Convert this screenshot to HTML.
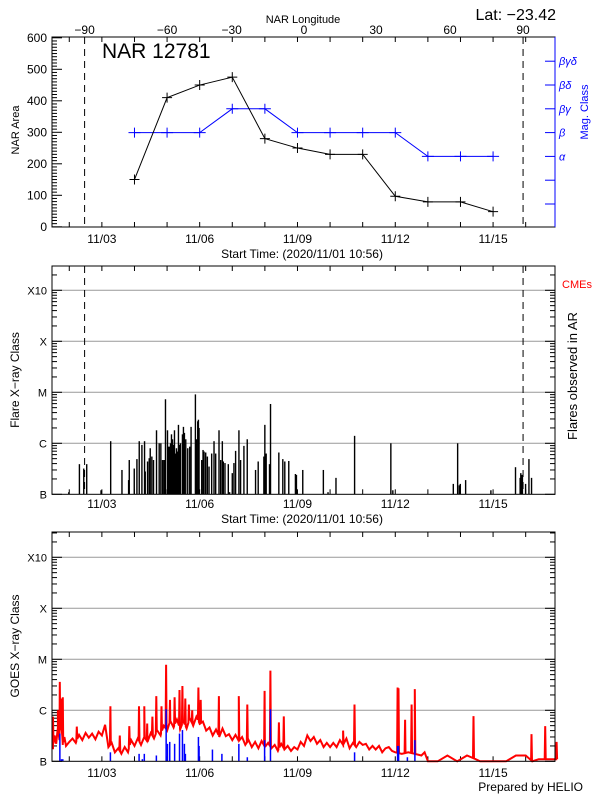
<!DOCTYPE html>
<html><head><meta charset="utf-8">
<style>
body{margin:0;background:#fff;}
svg{display:block;font-family:"Liberation Sans",sans-serif;}
</style></head>
<body>
<svg id="chart" width="600" height="800" viewBox="0 0 600 800" xmlns="http://www.w3.org/2000/svg">
<rect x="0" y="0" width="600" height="800" fill="#fff"/>
<text x="303" y="23" font-size="11" text-anchor="middle">NAR Longitude</text>
<text x="556" y="20" font-size="16" text-anchor="end">Lat: −23.42</text>
<text x="102" y="58" font-size="21">NAR 12781</text>
<text transform="translate(19,130) rotate(-90)" font-size="11" text-anchor="middle">NAR Area</text>
<text transform="translate(588,112) rotate(-90)" font-size="11" text-anchor="middle" fill="#00f">Mag. Class</text>
<text x="302" y="258" font-size="12" text-anchor="middle">Start Time: (2020/11/01 10:56)</text>
<text transform="translate(19,380) rotate(-90)" font-size="12" text-anchor="middle">Flare X−ray Class</text>
<text transform="translate(577,376) rotate(-90)" font-size="13" text-anchor="middle">Flares observed in AR</text>
<text x="562" y="288" font-size="11" fill="#f00">CMEs</text>
<text x="302" y="523" font-size="12" text-anchor="middle">Start Time: (2020/11/01 10:56)</text>
<text transform="translate(19,646) rotate(-90)" font-size="12" text-anchor="middle">GOES X−ray Class</text>
<text x="583" y="791" font-size="12" text-anchor="end">Prepared by HELIO</text>
<g id="plot"></g>
</svg>
<script>
// ---- data ----
const areaDays = [3,4,5,6,7,8,9,10,11,12,13,14];
const areaValues = [150,410,450,475,280,250,230,230,97,79,79,48];
const magDays = [3,4,5,6,7,8,9,10,11,12,13,14];
const magValues = [3,3,3,4,4,3,3,3,3,2,2,2];
const magLabels = ["","","α","β","βγ","βδ","βγδ"];
const areaTicks = [0,100,200,300,400,500,600];
const dateTickLabels = ["11/03","11/06","11/09","11/12","11/15"];
const dateTickDays = [2,5,8,11,14];
const lonLabels = [-90,-60,-30,0,30,60,90];
const lonDays = [1.47,4.0,5.98,8.2,10.41,12.68,14.92];
const dashDays = [1.47,14.92];
const classLabels = ["B","C","M","X","X10"];
const flareDays = [0.985,1.311,1.444,1.535,1.974,2.27,2.616,2.82,2.84,2.993,3.075,3.146,3.228,3.309,3.33,3.401,3.452,3.483,3.533,3.584,3.676,3.758,3.809,3.86,3.90,3.931,3.951,4.013,4.043,4.074,4.105,4.135,4.166,4.196,4.227,4.257,4.288,4.318,4.349,4.38,4.41,4.471,4.502,4.532,4.573,4.634,4.695,4.736,4.869,4.9,4.94,4.961,4.981,5.063,5.103,5.134,5.185,5.236,5.287,5.368,5.44,5.491,5.593,5.644,5.695,5.725,5.776,5.878,5.919,6.0,6.051,6.102,6.204,6.255,6.357,6.459,6.714,6.795,6.969,6.999,7.04,7.142,7.173,7.428,7.55,7.611,7.733,7.937,7.968,8.162,8.794,8.937,9.181,9.752,10.864,10.925,12.78,12.913,12.964,12.995,13.158,13.933,14.688,14.83,14.85,14.88,14.9,14.997,15.1,15.18];
const flareClasses = ["B1.1","B3.9","B3.2","B3.9","B1.2","C1.1","B3.0","B1.9","B4.7","B3.2","B4.9","C1.1","B9.3","C1.1","B2.8","B4.4","B5.1","B8.0","B5.5","B4.7","C1.8","C1.0","C1.0","B4.7","B4.7","B4.7","C7.3","C1.8","B8.6","B8.6","C1.0","C1.5","C1.2","B9.3","C1.8","B6.3","B8.0","B6.9","C2.3","B9.3","C1.0","C1.5","C2.1","C1.6","C1.2","B8.0","B8.6","C2.1","C9.1","C1.2","C2.7","C2.9","C2.0","B4.7","B7.4","B6.9","B6.6","B5.5","B3.5","B6.3","C1.1","B6.3","C1.8","B4.7","C1.1","B4.4","B4.1","B3.9","B1.1","B2.6","B4.1","B7.1","C1.8","B4.7","B8.9","C1.2","B3.0","B4.4","B5.5","C2.3","B6.3","B3.9","C5.9","B6.6","B4.9","B4.4","B4.5","B2.5","B2.4","B3.0","B3.0","B1.1","B2.1","C1.4","C1.0","B1.2","B1.6","C1.0","B1.5","B1.6","B1.9","B1.2","B3.4","B2.1","B2.6","B2.4","B2.4","B1.6","B4.9","B2.1"];
// GOES background (in B units, 1 = 1e-7 W/m2), sampled ~every 0.1 day
const goesBgDays = [0.5,0.55,0.6,0.65,0.7,0.75,0.8,0.85,0.9,1.0,1.1,1.2,1.3,1.4,1.5,1.6,1.7,1.8,1.9,2.0,2.1,2.2,2.3,2.4,2.5,2.6,2.7,2.8,2.9,3.0,3.1,3.2,3.3,3.4,3.5,3.6,3.7,3.8,3.9,4.0,4.1,4.2,4.3,4.4,4.5,4.6,4.7,4.8,4.9,5.0,5.1,5.2,5.3,5.4,5.5,5.6,5.7,5.8,5.9,6.0,6.1,6.2,6.3,6.4,6.5,6.6,6.7,6.8,6.9,7.0,7.1,7.2,7.3,7.4,7.5,7.6,7.7,7.8,7.9,8.0,8.1,8.2,8.3,8.4,8.5,8.6,8.7,8.8,8.9,9.0,9.1,9.2,9.3,9.4,9.5,9.6,9.7,9.8,9.9,10.0,10.1,10.2,10.3,10.4,10.5,10.6,10.7,10.8,10.9,11.0,11.2,11.4,11.6,11.8,11.9,12.0,12.3,12.6,12.9,13.2,13.6,14.0,14.4,14.7,15.0,15.2,15.4];
const goesBgValues = [1.8,3.2,2.2,4.5,2.6,5.5,2.1,3.0,2.0,2.4,2.8,2.3,3.3,2.6,3.6,2.9,3.5,2.7,3.8,3.2,5.2,1.9,2.3,1.5,1.8,1.4,1.9,1.5,2.6,2.0,2.8,2.1,3.0,2.4,3.6,2.8,4.0,3.2,5.0,4.0,6.2,4.6,6.6,4.2,6.0,4.4,6.8,5.0,7.5,5.4,6.0,4.0,4.6,3.2,4.2,3.0,4.4,3.1,3.4,2.6,3.3,2.5,3.0,2.1,2.6,1.9,2.4,1.8,2.5,1.9,2.3,1.8,2.1,1.6,2.2,1.7,2.0,1.6,1.9,1.7,2.4,2.0,3.2,2.5,3.0,2.2,2.6,1.9,2.3,1.9,2.3,1.9,2.6,2.1,2.8,1.8,2.3,1.9,2.4,2.1,2.2,1.7,2.0,1.7,2.0,1.5,1.8,1.9,1.6,1.5,1.4,1.5,1.4,1.3,1.5,1.0,1.0,1.3,1.0,1.3,1.0,1.0,1.0,1.3,1.3,1.0,1.1];
const goesSpikeDays = [0.5,0.65,0.71,0.76,0.8,1.23,2.26,2.55,2.84,3.14,3.3,3.39,3.55,3.67,3.83,3.97,4.09,4.23,4.38,4.47,4.56,4.67,4.77,4.96,5.03,5.59,6.2,6.46,6.99,7.17,7.43,7.58,9.4,9.75,11.07,11.1,11.3,11.5,11.6,13.4,15.18,15.6,15.95];
const goesSpikeValues = [7.5,10,36,17,18,4.8,12,3.2,4.9,12,12,5.5,7.5,19,12,78,16,18,25,30,17,13,10,28,16,19,19,13,24,60,5.8,7.6,4,13,28,27,6.5,13,26,7.7,3.4,4.9,2.4];
const goesFlareDays = [0.71,0.76,0.8,2.26,3.14,3.24,3.3,3.67,3.78,3.97,4.01,4.08,4.23,4.38,4.47,4.53,4.56,4.96,4.98,5.23,5.39,5.68,6.2,6.46,6.99,7.17,9.75,11.07,11.1,11.37,11.6];
const goesFlareValues = [3.5,1.1,1.1,1.5,1.4,1.1,1.4,1.3,1.0,10.5,2.2,2.4,2.2,3.5,4.1,2.2,1.4,3.0,2.0,1.0,1.7,1.4,2.2,1.2,2.6,10.5,1.5,2.0,2.0,1.2,2.6];

// ---- helpers ----
const NS="http://www.w3.org/2000/svg";
const plot=document.getElementById('plot');
function mk(tag,attrs,parent){const e=document.createElementNS(NS,tag);for(const k in attrs)e.setAttribute(k,attrs[k]);(parent||plot).appendChild(e);return e;}
const X0=52,X1=555;
function xDay(t){return 52+(t-0.47)*32.6;}
function parseClass(s){const m={B:1,C:10,M:100,X:1000}[s[0]];return m*parseFloat(s.slice(1));}
function yArea(v){return 226.8-v*0.315;}
function yMag(i){return 204-i*23.8;}
function yLog(base){return function(v){return base-Math.log10(v)*51;};}
const P2={top:266,bot:494.3},P3={top:532,bot:761.3};
const y2=yLog(P2.bot),y3=yLog(P3.bot);

function dayTicks(yb,yt){
  for(let d=1;d<=15;d++){const x=xDay(d);
    let t=mk('line',{x1:x,x2:x,y1:yb,y2:yb-5,stroke:'#000'});
    
    t=mk('line',{x1:x,x2:x,y1:yt,y2:yt+5,stroke:'#000'});
    }
}
function dateLabels(y){
  dateTickLabels.forEach((l,i)=>{const t=mk('text',{x:xDay(dateTickDays[i]),y:y,'font-size':12,'text-anchor':'middle'});t.textContent=l;
    });
}
function frame(top,bot,name,rightColor){
  const r=mk('rect',{x:X0,y:top,width:X1-X0,height:bot-top,fill:'none',stroke:'#000'});
  
  if(rightColor){const l=mk('line',{x1:X1,x2:X1,y1:top,y2:bot,stroke:rightColor});
    }
}
function dashes(top,bot){
  dashDays.forEach(d=>{const l=mk('line',{x1:xDay(d),x2:xDay(d),y1:top,y2:bot,stroke:'#000','stroke-dasharray':'7,5'});
    });
}
function logAxis(P,yf){
  for(let dec=0;dec<=4;dec++){
    const y=yf(Math.pow(10,dec));
    if(dec>0){const g=mk('line',{x1:X0,x2:X1,y1:y,y2:y,stroke:'#999'});
      }
    let t=mk('text',{x:47,y:y+4,'font-size':11,'text-anchor':'end'});t.textContent=classLabels[dec];
    
    [X0,X1].forEach((ax,si)=>{const s=si?-1:1;
      const tk=mk('line',{x1:ax,x2:ax+s*10,y1:y,y2:y,stroke:'#000'});
      
      for(let m=2;m<=9;m++){const v=Math.pow(10,dec)*m;const yy=yf(v);if(yy<P.top)continue;
        const mt=mk('line',{x1:ax,x2:ax+s*5,y1:yy,y2:yy,stroke:'#000'});
        }
    });
  }
}

// ---- panel 1 ----
frame(37,227,'area-plot-frame','#00f');
dayTicks(227,37);
dateLabels(243);
areaTicks.forEach(v=>{const y=yArea(v);
  const t=mk('text',{x:47,y:y+4,'font-size':12,'text-anchor':'end'});t.textContent=v;
  
  const tk=mk('line',{x1:X0,x2:X0+10,y1:y,y2:y,stroke:'#000'});
  });
for(let v=10;v<600;v+=10){if(v%100===0)continue;const y=yArea(v);
  const tk=mk('line',{x1:X0,x2:X0+5,y1:y,y2:y,stroke:'#000'});
  }
magLabels.forEach((l,i)=>{const y=yMag(i);
  const tk=mk('line',{x1:X1,x2:X1-10,y1:y,y2:y,stroke:'#00f'});
  
  if(l){const t=mk('text',{x:559,y:y+4,'font-size':11,fill:'#00f','font-style':'italic'});t.textContent=l;
    }});
lonLabels.forEach((l,i)=>{const t=mk('text',{x:xDay(lonDays[i]),y:34,'font-size':12,'text-anchor':'middle'});
  t.textContent=l<0?'−'+(-l):String(l);
  });
dashes(37,227);
const magLine=mk('polyline',{points:magDays.map((d,i)=>xDay(d)+','+yMag(magValues[i])).join(' '),fill:'none',stroke:'#00f'});

magDays.forEach((d,i)=>{const x=xDay(d),y=yMag(magValues[i]);
  const p=mk('path',{d:`M${x-6},${y}H${x+6}M${x},${y-5}V${y+5}`,stroke:'#00f'});
  });
const areaLine=mk('polyline',{points:areaDays.map((d,i)=>xDay(d)+','+yArea(areaValues[i])).join(' '),fill:'none',stroke:'#000'});

areaDays.forEach((d,i)=>{const x=xDay(d),y=yArea(areaValues[i]);
  const p=mk('path',{d:`M${x-5},${y}H${x+5}M${x},${y-5}V${y+5}`,stroke:'#000'});
  });

// ---- panel 2 ----
logAxis(P2,y2);
dayTicks(P2.bot,P2.top);
dateLabels(508);
flareDays.forEach((d,i)=>{const x=xDay(d),y=y2(parseClass(flareClasses[i]));
  const b=mk('rect',{x:x-0.7,y:y,width:1.4,height:P2.bot-y,fill:'#000'});
  });
dashes(P2.top,P2.bot);
frame(P2.top,P2.bot,'flare-plot-frame');

// ---- panel 3 ----
logAxis(P3,y3);
dayTicks(P3.bot,P3.top);
dateLabels(777);
const pts=[];
goesBgDays.forEach((d,i)=>pts.push([d,goesBgValues[i]]));
goesSpikeDays.forEach((d,i)=>{pts.push([d-0.015,null]);pts.push([d,goesSpikeValues[i]]);pts.push([d+0.015,null]);});
pts.sort((a,b)=>a[0]-b[0]);
function bgAt(t){let i=0;while(i<goesBgDays.length-1&&goesBgDays[i+1]<t)i++;
  if(t<=goesBgDays[0])return goesBgValues[0];if(i>=goesBgDays.length-1)return goesBgValues[goesBgValues.length-1];
  const f=(t-goesBgDays[i])/(goesBgDays[i+1]-goesBgDays[i]);return goesBgValues[i]+(goesBgValues[i+1]-goesBgValues[i])*f;}
const goesPts=pts.map(p=>{const v=p[1]===null?bgAt(p[0]):p[1];return xDay(p[0]).toFixed(1)+','+Math.min(P3.bot,y3(Math.max(v,1))).toFixed(1);}).join(' ');
const gl=mk('polyline',{points:goesPts,fill:'none',stroke:'#f00','stroke-width':2});

goesFlareDays.forEach((d,i)=>{const x=xDay(d),y=y3(goesFlareValues[i]);
  const b=mk('rect',{x:x-0.7,y:y,width:1.5,height:P3.bot-y,fill:'#00f'});
  });
frame(P3.top,P3.bot,'goes-plot-frame');
</script>
</body></html>
